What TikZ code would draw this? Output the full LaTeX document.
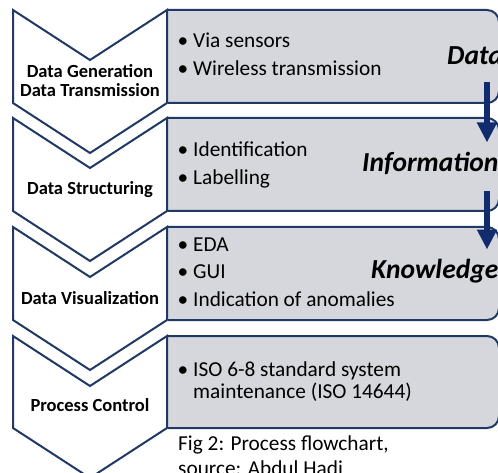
\documentclass[tikz,border=0pt]{standalone}
\usepackage{fontspec}
\setmainfont{Carlito}
\usetikzlibrary{arrows.meta}
\definecolor{navy}{HTML}{1F3864}
\definecolor{boxgray}{HTML}{D6D7DC}
\definecolor{arrowblue}{HTML}{102C6C}
\tikzset{
  chev/.style={draw=navy, line width=2pt, fill=white, line join=miter},
  graybox/.style={draw=navy, line width=2pt, fill=boxgray, rounded corners=12pt},
  lab/.style={font=\fontsize{18.5}{19}\selectfont\bfseries, inner sep=0pt, anchor=base},
  btext/.style={font=\fontsize{21.3}{24}\selectfont, inner sep=0pt},
  kw/.style={font=\fontsize{27.5}{30}\selectfont\bfseries\itshape, inner sep=0pt, anchor=base west},
  flow/.style={draw=arrowblue, line width=6pt, -{Triangle[width=19pt,length=20pt]}},
}
\newcommand{\bulline}[3]{%
  \node[btext, anchor=base] (#1d) at (183,#2) {\textbullet};
  \node[btext, anchor=base west] (#1) at (193,#2) {#3};}
\begin{document}
\begin{tikzpicture}[x=1pt,y=-1pt]
\useasboundingbox (0,0) rectangle (498,473);
% gray boxes (left edge hidden under the chevrons)
\begin{scope}
  \clip (168,-20) rectangle (520,500);
  \draw[graybox] (150,10) rectangle (499,103);
  \draw[graybox] (150,118) rectangle (499,211);
  \draw[graybox] (150,227) rectangle (499,320);
  \draw[graybox] (150,336) rectangle (499,428);
\end{scope}
% chevrons
\draw[chev] (13,10) -- (90,60) -- (167,10) -- (167,103) -- (90,153) -- (13,103) -- cycle;
\draw[chev] (13,118) -- (90,168) -- (167,118) -- (167,211) -- (90,261) -- (13,211) -- cycle;
\draw[chev] (13,227) -- (90,277) -- (167,227) -- (167,320) -- (90,370) -- (13,320) -- cycle;
\draw[chev] (13,336) -- (90,386) -- (167,336) -- (167,428) -- (90,478) -- (13,428) -- cycle;
% chevron labels
\node[lab] (lab1a) at (90,78) {Data Generation};
\node[lab] (lab1b) at (90,97) {Data Transmission};
\node[lab] (lab2) at (90,195) {Data Structuring};
\node[lab] (lab3) at (90,304) {Data Visualization};
\node[lab] (lab4) at (90,411.7) {Process Control};
% bullet texts
\bulline{b11}{48}{Via sensors}
\bulline{b12}{76}{Wireless transmission}
\bulline{b21}{156.7}{Identification}
\bulline{b22}{185}{Labelling}
\bulline{b31}{251.7}{EDA}
\bulline{b32}{278.3}{GUI}
\bulline{b33}{306}{Indication of anomalies}
\bulline{b41}{376.7}{ISO 6-8 standard system}
\node[btext, anchor=base west] (b42) at (193,398.3) {maintenance (ISO 14644)};
% keywords
\node[kw] (data) at (447,65) {Data};
\node[kw] (info) at (362,172) {Information};
\node[kw] (know) at (371,278) {Knowledge};
\coordinate (ax) at (487,0);
\draw[flow, shorten <=17pt, shorten >=10pt] (data.south -| ax) -- (info.north -| ax);
\draw[flow, shorten <=16pt, shorten >=9pt] (info.south -| ax) -- (know.north -| ax);
% caption
\node[btext, anchor=base west] (cap1) at (178,450.7) {Fig 2: Process flowchart,};
\node[btext, anchor=base west] (cap2) at (178,475) {source: Abdul Hadi};
\end{tikzpicture}
\end{document}
